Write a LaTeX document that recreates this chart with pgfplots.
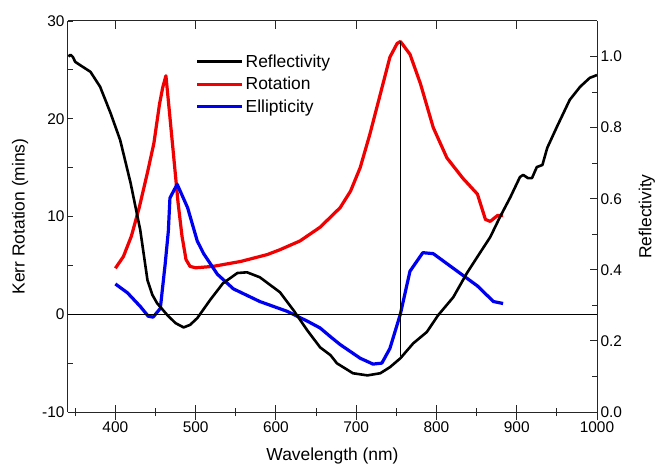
\documentclass[border=0pt]{standalone}
\usepackage{fontspec}
\setmainfont{Liberation Sans}
\usepackage{pgfplots}
\pgfplotsset{compat=1.18}

\definecolor{kred}{RGB}{240,0,0}
\definecolor{kblue}{RGB}{0,0,240}

\begin{document}
\begin{tikzpicture}
\path[use as bounding box] (-68bp,-55bp) rectangle (587bp,412bp);
% left / bottom axis: Kerr rotation and ellipticity
\begin{axis}[
  at={(0,0)}, anchor=south west,
  scale only axis, width=529bp, height=391bp,
  xmin=341, xmax=1000, ymin=-10, ymax=30,
  axis x line*=bottom, axis y line*=left,
  axis line style={line width=1bp, black!85},
  xtick={400,500,600,700,800,900,1000},
  minor xtick={350,450,550,650,750,850,950},
  ytick={-10,0,10,20,30}, minor ytick={-5,5,15,25},
  tick align=inside,
  xtick align=center,
  x tick style={/pgfplots/major tick length=15bp, /pgfplots/minor tick length=8bp},
  y tick style={/pgfplots/major tick length=5bp, /pgfplots/minor tick length=5bp},
  tick style={line width=1bp, black!85},
  /pgf/number format/assume math mode=true,
  /pgf/number format/1000 sep={},
  tick label style={font=\fontsize{15.5}{18}\selectfont},
  x tick label style={yshift=-4bp},
  label style={font=\fontsize{17.5}{21}\selectfont},
  xlabel={Wavelength (nm)}, ylabel={Kerr Rotation (mins)},
  xlabel style={yshift=-8bp},
  ylabel style={yshift=7bp},
  legend style={at={(rel axis cs:0.235,0.925)}, anchor=north west,
    draw=none, fill=none, font=\fontsize{17.5}{21}\selectfont, row sep=4.5bp},
  legend cell align=left,
  legend image code/.code={\draw[#1] (0bp,0bp) -- (45bp,0bp);},
]
\addlegendimage{black, line width=3.2bp}
\addlegendentry{Reflectivity}
\addplot[kred, line width=3.2bp, line join=round] coordinates {
(400,4.7) (410,5.9) (420,8.0) (430,11.0) (440,14.5) (448,17.5) (455,21.5)
(459,23.2) (463,24.4) (467,21.0) (472,16.7) (478,11.5) (483,8.0) (488,5.6)
(493,4.9) (500,4.75) (522,4.9) (556,5.4) (589,6.1) (605,6.6) (630,7.5)
(655,8.9) (680,10.9) (693,12.6) (705,15.0) (717,18.4) (730,22.5) (742,26.3)
(751,27.7) (755,27.9) (757,27.7) (767,26.6) (780,23.6) (796,19.1) (813,16.0)
(833,13.9) (851,12.3) (861,9.7) (867,9.5) (876,10.1) (883,10.1)
};
\addlegendentry{Rotation}
\addplot[kblue, line width=3.2bp, line join=round] coordinates {
(400,3.1) (415,2.2) (431,0.8) (441,-0.2) (447,-0.3) (456,0.6) (462,5.1)
(466,8.5) (468,11.9) (477,13.3) (490,10.9) (502,7.5) (510,6.2) (527,4.1)
(547,2.6) (580,1.3) (614,0.3) (639,-0.7) (655,-1.4) (668,-2.3) (680,-3.1)
(705,-4.5) (721,-5.1) (732,-5.0) (742,-3.5) (755,0.0) (767,4.4) (783,6.3)
(796,6.2) (821,4.7) (851,2.9) (871,1.3) (883,1.1)
};
\addlegendentry{Ellipticity}
\addplot[black, line width=1.2bp, forget plot] coordinates {(341,0) (1000,0)};
\addplot[black, line width=1.2bp, forget plot] coordinates {(755,28) (755,-4.3)};
\end{axis}
% right / top axis: reflectivity
\begin{axis}[
  at={(0,0)}, anchor=south west,
  scale only axis, width=529bp, height=391bp,
  xmin=341, xmax=1000, ymin=0, ymax=1.1,
  axis x line*=top, axis y line*=right,
  axis line style={line width=1bp, black!85},
  xtick={400,500,600,700,800,900,1000}, xticklabels={},
  ytick={0,0.2,0.4,0.6,0.8,1.0}, minor ytick={0.1,0.3,0.5,0.7,0.9},
  tick align=inside,
  x tick style={/pgfplots/major tick length=8bp},
  y tick style={/pgfplots/major tick length=7bp, /pgfplots/minor tick length=5bp},
  tick style={line width=1bp, black!85},
  /pgf/number format/assume math mode=true,
  yticklabel style={/pgf/number format/.cd, fixed, fixed zerofill, precision=1},
  tick label style={font=\fontsize{15.5}{18}\selectfont},
  label style={font=\fontsize{17.5}{21}\selectfont},
  ylabel={Reflectivity},
  ylabel style={yshift=-10bp},
]
\addplot[black, line width=2.6bp, line join=round] coordinates {
(341.5,1.000) (344,1.005) (347,0.999) (350,0.985) (356,0.976) (369,0.957)
(381,0.915) (394,0.841) (406,0.765) (419,0.644) (431,0.512) (440,0.371)
(446,0.330) (452,0.306) (465,0.272) (475,0.250) (485,0.238) (493,0.245)
(502,0.264) (518,0.315) (534,0.362) (552,0.391) (564,0.393) (580,0.379)
(605,0.337) (622,0.286) (639,0.230) (655,0.182) (668,0.160) (676,0.137)
(696,0.109) (714,0.103) (730,0.109) (742,0.126) (755,0.151) (771,0.193)
(788,0.225) (802,0.272) (821,0.323) (838,0.391) (854,0.447) (867,0.492)
(879,0.548) (892,0.604) (904,0.661) (908,0.667) (914,0.658) (919,0.658)
(925,0.689) (932,0.695) (938,0.743) (950,0.802) (966,0.878) (979,0.915)
(991,0.940) (1000,0.948)
};
\end{axis}
\end{tikzpicture}
\end{document}
